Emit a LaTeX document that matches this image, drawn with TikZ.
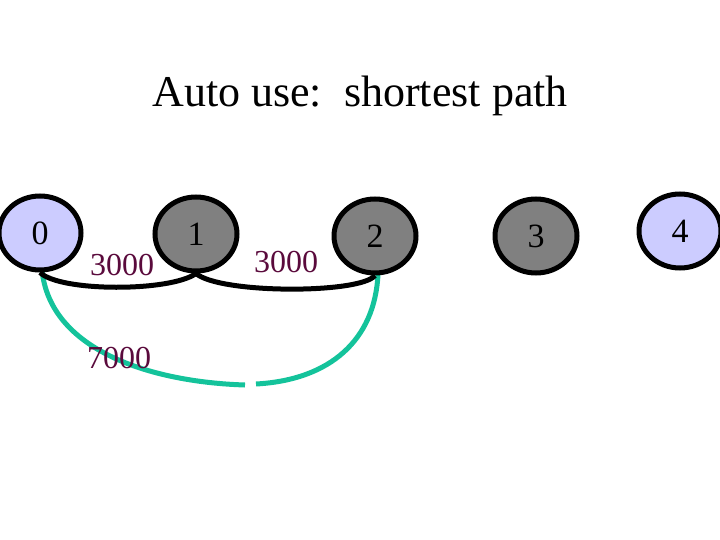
\documentclass[tikz,border=0pt]{standalone}
\usepackage{fontspec}
\setmainfont{Liberation Serif}
\usetikzlibrary{shapes.geometric}
\begin{document}
\begin{tikzpicture}[x=1pt,y=-1pt,
  nd/.style={ellipse,draw=black,line width=5pt,minimum width=82pt,minimum height=74pt,inner sep=0pt,font=\fontsize{34}{36}\selectfont},
  bnode/.style={nd,fill={rgb,255:red,204;green,204;blue,255}},
  gnode/.style={nd,fill={rgb,255:red,128;green,128;blue,128}},
  lbl/.style={text={rgb,255:red,90;green,10;blue,60},font=\fontsize{32}{34}\selectfont},
  edge/.style={line width=5pt},
  gedge/.style={line width=5pt,draw={rgb,255:red,20;green,195;blue,155}}]
\useasboundingbox (0,0) rectangle (720,540);
\node[font=\fontsize{44}{48}\selectfont] (t) at (360,96) {Auto use:\ \ shortest path};
\draw[gedge] (42,270) .. controls (50,350) and (150,382) .. (245,385) coordinate (g1);
\draw[gedge] (256,384) coordinate (g2) .. controls (330,380) and (375,340) .. (378,274);
\node[bnode] (n0) at (40,233) {0};
\node[gnode] (n1) at (196,234) {1};
\node[gnode] (n2) at (375,236) {2};
\node[gnode] (n3) at (536,236) {3};
\node[bnode] (n4) at (680,231) {4};
\draw[edge] (n0.south) .. controls (60,292) and (170,292) .. (n1.south);
\draw[edge] (n1.south) .. controls (220,294) and (360,294) .. (n2.south);
\node[lbl] (l1) at (122,265) {3000};
\node[lbl] (l2) at (286,262) {3000};
\node[lbl] (l3) at (119,358) {7000};
\end{tikzpicture}
\end{document}
